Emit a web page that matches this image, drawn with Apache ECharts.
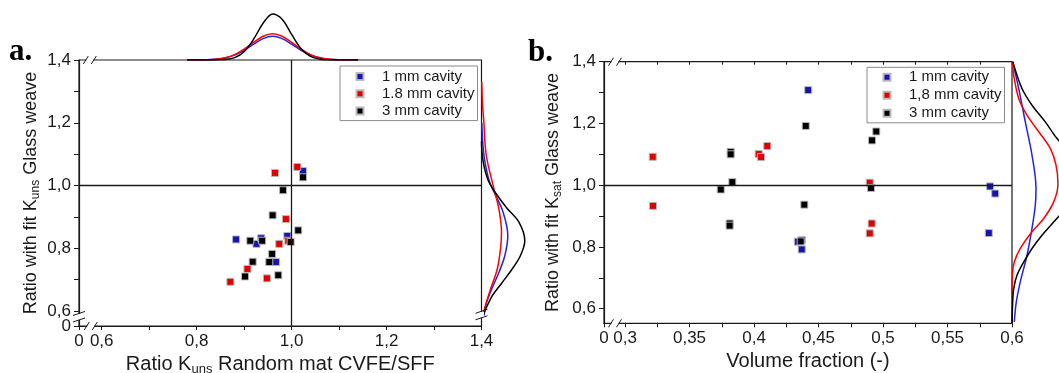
<!DOCTYPE html>
<html><head><meta charset="utf-8">
<script src="https://cdn.jsdelivr.net/npm/echarts@6/dist/echarts.min.js"></script>
<style>html,body{margin:0;padding:0;background:#fff}#c{width:1059px;height:373px}</style>
</head><body><div id="c"></div>
<script>
// ---------- Panel a data ----------
const aLegend = ['1 mm cavity', '1.8 mm cavity', '3 mm cavity'];
const aBlueX  = [0.883, 0.926, 0.936, 0.991, 1.024, 0.967];
const aBlueY  = [0.828, 0.814, 0.832, 0.839, 1.046, 0.756];
const aRedX   = [0.965, 1.012, 0.988, 0.974, 0.993, 0.907, 0.871, 0.948];
const aRedY   = [1.040, 1.059, 0.893, 0.814, 0.824, 0.734, 0.693, 0.704];
const aBlackX = [1.024, 0.982, 0.960, 1.014, 0.913, 0.938, 0.998, 0.959, 0.918, 0.953, 0.902, 0.972];
const aBlackY = [1.026, 0.985, 0.905, 0.857, 0.824, 0.824, 0.820, 0.782, 0.757, 0.756, 0.710, 0.714];

// top marginal distribution (x value, density)
const aTopX     = [0.78, 0.80, 0.82, 0.84, 0.86, 0.88, 0.90, 0.92, 0.94, 0.96, 0.98, 1.00, 1.02, 1.04, 1.06, 1.08, 1.10, 1.12, 1.14];
const aTopBlue  = [0, 0.05, 0.18, 0.68, 2.0, 4.9, 9.7, 15.9, 21.4, 23.7, 21.4, 15.9, 9.7, 4.9, 2.0, 0.68, 0.18, 0.05, 0];
const aTopRed   = [0, 0.05, 0.2, 0.75, 2.2, 5.4, 10.8, 17.7, 23.8, 26.3, 23.8, 17.7, 10.8, 5.4, 2.2, 0.75, 0.2, 0.05, 0];
const aTopBlack = [0, 0, 0, 0.1, 0.5, 2.4, 8.3, 20.8, 36.8, 46.1, 40.8, 25.6, 11.3, 3.6, 0.8, 0.1, 0, 0, 0];

// right marginal distribution (y value, density)
const aRightBlueY  = [1.20, 1.15, 1.109, 1.066, 1.012, 0.969, 0.916, 0.841, 0.776, 0.722, 0.669, 0.626, 0.585];
const aRightBlueD  = [0.3, 1.0, 2.0, 4.0, 8.0, 14.0, 21.5, 26.3, 23.3, 17.3, 10.0, 5.0, 2.5];
const aRightRedY   = [1.33, 1.26, 1.205, 1.098, 0.991, 0.927, 0.851, 0.798, 0.733, 0.669, 0.605, 0.585];
const aRightRedD   = [0.3, 1.0, 2.3, 4.7, 12.3, 17.3, 20.0, 19.0, 15.7, 9.0, 2.8, 1.5];
const aRightBlackY = [1.14, 1.098, 1.055, 1.012, 0.969, 0.927, 0.884, 0.825, 0.777, 0.734, 0.691, 0.648, 0.605, 0.585];
const aRightBlackD = [0, 0.7, 3.0, 7.3, 15.7, 25.7, 37.3, 43.3, 39.0, 30.7, 20.7, 10.7, 4.0, 1.3];

// axis ticks panel a (aMin = broken-axis origin labelled "0")
const aMin = 0.5522;
const aOriginText = '0';
const aLabelVals  = [0.6, 0.8, 1.0, 1.2, 1.4];
const aLabelTexts = ['0,6', '0,8', '1,0', '1,2', '1,4'];
const aTickVals   = [0.5522, 0.6, 0.7, 0.8, 0.9, 1.0, 1.1, 1.2, 1.3, 1.4];

// ---------- Panel b data ----------
const bLegend = ['1 mm cavity', '1,8 mm cavity', '3 mm cavity'];
const bBlueX  = [0.442, 0.434, 0.437, 0.437, 0.583, 0.587, 0.582];
const bBlueY  = [1.308, 0.817, 0.822, 0.792, 0.996, 0.973, 0.845];
const bRedX   = [0.3215, 0.3217, 0.4036, 0.4054, 0.4103, 0.4897, 0.4912, 0.4897];
const bRedY   = [1.092, 0.933, 1.101, 1.091, 1.127, 1.008, 0.876, 0.844];
const bBlackX = [0.3742, 0.3819, 0.3819, 0.3832, 0.3811, 0.3811, 0.4401, 0.4390, 0.4362, 0.4915, 0.4948, 0.4907];
const bBlackY = [0.986, 1.108, 1.100, 1.010, 0.876, 0.869, 1.192, 0.937, 0.818, 1.145, 1.174, 0.991];

const bRightBlueY  = [1.40, 1.313, 1.205, 1.097, 0.989, 0.935, 0.86, 0.773, 0.687, 0.622, 0.557];
const bRightBlueD  = [0.7, 6.7, 13.3, 20.0, 24.0, 23.3, 20.0, 15.0, 8.3, 4.3, 2.3];
const bRightRedY   = [1.40, 1.357, 1.281, 1.227, 1.173, 1.119, 1.065, 1.005, 0.946, 0.892, 0.849, 0.795, 0.751, 0.708, 0.65, 0.553];
const bRightRedD   = [0.5, 1.7, 6.7, 15.0, 26.7, 38.3, 44.0, 46.0, 41.7, 31.7, 20.0, 8.3, 2.3, 0.3, 0, 0];
const bRightBlackY = [1.40, 1.389, 1.313, 1.259, 1.205, 1.151, 1.10, 1.05, 1.00, 0.95, 0.881, 0.838, 0.795, 0.751, 0.708, 0.665, 0.622, 0.553];
const bRightBlackD = [1.2, 1.7, 10.0, 20.0, 33.3, 45.0, 60.0, 68.0, 68.0, 60.0, 41.7, 30.0, 20.0, 11.7, 5.0, 1.7, 0.7, 0];

const bXMin = 0.2837, bYMin = 0.5527;
const bXLabelVals  = [0.2837, 0.3, 0.35, 0.4, 0.45, 0.5, 0.55, 0.6];
const bXLabelTexts = ['0', '0,3', '0,35', '0,4', '0,45', '0,5', '0,55', '0,6'];
const bXTickVals   = [0.2837, 0.3, 0.325, 0.35, 0.375, 0.4, 0.425, 0.45, 0.475, 0.5, 0.525, 0.55, 0.575, 0.6];
const bYLabelVals  = [0.6, 0.8, 1.0, 1.2, 1.4];
const bYLabelTexts = ['0,6', '0,8', '1,0', '1,2', '1,4'];
const bYTickVals   = [0.6, 0.7, 0.8, 0.9, 1.0, 1.1, 1.2, 1.3, 1.4];

// ---------- styling ----------
const FONT = '"Liberation Sans", Arial, sans-serif';
const INK = '#1a1a1a';
const C_BLUE = '#1414b4', C_RED = '#e00000', C_BLACK = '#000000';
const L_BLUE = '#2323e0', L_RED = '#ff0000', L_BLACK = '#000000';

const zip = (a, b) => a.map((v, i) => [v, b[i]]);
const fmt = (vals, texts) => v => { const i = vals.findIndex(u => Math.abs(u - v) < 1e-6); return i < 0 ? '' : texts[i]; };

function mainX(gridIndex, min, max, labelVals, labelTexts, tickVals, name) {
  return {
    gridIndex, type: 'value', min, max, position: 'bottom',
    axisLine: { show: true, onZero: false, lineStyle: { color: INK, width: 1.2 } },
    axisTick: { show: true, customValues: tickVals, length: 4, lineStyle: { color: INK, width: 1 } },
    axisLabel: { customValues: labelVals, formatter: fmt(labelVals, labelTexts), margin: 7, fontSize: 17,
      color: INK, fontFamily: FONT, showMinLabel: true, showMaxLabel: true, hideOverlap: false },
    splitLine: { show: false },
    name, nameLocation: 'middle', nameGap: 26, nameMoveOverlap: false,
    nameTextStyle: { fontFamily: FONT, color: INK, fontSize: 20,
      rich: { t: { fontSize: 20, fontFamily: FONT, color: INK, lineHeight: 24 },
              s: { fontSize: 13, fontFamily: FONT, color: INK, lineHeight: 13, verticalAlign: 'bottom' } } }
  };
}
function mainY(gridIndex, min, max, labelVals, labelTexts, tickVals, name, gap) {
  return {
    gridIndex, type: 'value', min, max, position: 'left',
    axisLine: { show: true, onZero: false, lineStyle: { color: INK, width: 1.2 } },
    axisTick: { show: true, customValues: tickVals, length: 5, lineStyle: { color: INK, width: 1 } },
    axisLabel: { customValues: labelVals, formatter: fmt(labelVals, labelTexts), margin: 8, fontSize: 17,
      color: INK, fontFamily: FONT, showMinLabel: true, showMaxLabel: true, hideOverlap: false },
    splitLine: { show: false },
    name, nameLocation: 'middle', nameGap: gap, nameMoveOverlap: false,
    nameTextStyle: { fontFamily: FONT, color: INK, fontSize: 18,
      rich: { t: { fontSize: 18, fontFamily: FONT, color: INK, lineHeight: 22 },
              s: { fontSize: 12, fontFamily: FONT, color: INK, lineHeight: 12, verticalAlign: 'bottom' } } }
  };
}
const hidden = (gridIndex, min, max) => ({ gridIndex, type: 'value', min, max, show: false, splitLine: { show: false } });

function scatter(name, xs, ys, color, xi, yi) {
  return { type: 'scatter', name, xAxisIndex: xi, yAxisIndex: yi, data: zip(xs, ys), symbol: 'rect', symbolSize: 7,
    itemStyle: { color, borderColor: 'rgba(185,185,185,0.95)', borderWidth: 1, opacity: 1 }, z: 3 };
}
function curve(name, data, color, xi, yi) {
  return { type: 'line', name, xAxisIndex: xi, yAxisIndex: yi, data, showSymbol: false, symbol: 'none',
    smooth: 0.35, lineStyle: { color, width: 1.5 }, itemStyle: { color }, silent: true, z: 4, clip: true };
}
function legend(left, top, data, pad, gap) {
  return { orient: 'vertical', left, top, data, icon: 'rect', itemWidth: 7, itemHeight: 7, itemGap: gap,
    padding: pad, borderColor: '#8a8a8a', borderWidth: 1, backgroundColor: '#fff', selectedMode: false,
    textStyle: { fontFamily: FONT, fontSize: 15, color: INK, lineHeight: 17, padding: [0, 0, 0, 13.5] } };
}

const option = {
  animation: false,
  backgroundColor: '#fff',
  grid: [
    { left: 79, top: 60, width: 402.5, height: 266, show: true, borderColor: INK, borderWidth: 1.2, backgroundColor: 'transparent', outerBoundsMode: 'none' },
    { left: 79, top: 10, width: 402.5, height: 50, show: false, outerBoundsMode: 'none' },
    { left: 481.5, top: 60, width: 60, height: 266, show: false, outerBoundsMode: 'none' },
    { left: 604, top: 61.7, width: 408, height: 261.6, show: true, borderColor: INK, borderWidth: 1.2, backgroundColor: 'transparent', outerBoundsMode: 'none' },
    { left: 1012, top: 61.7, width: 80, height: 261.6, show: false, outerBoundsMode: 'none' }
  ],
  xAxis: [
    mainX(0, aMin, 1.4, [aMin].concat(aLabelVals), [aOriginText].concat(aLabelTexts), aTickVals, '{t|Ratio K}{s|uns}{t| Random mat CVFE/SFF}'),
    hidden(1, aMin, 1.4),
    hidden(2, 0, 60),
    mainX(3, bXMin, 0.6, bXLabelVals, bXLabelTexts, bXTickVals, '{t|Volume fraction (-)}'),
    { gridIndex: 3, type: 'value', min: bXMin, max: 0.6, position: 'top',
      axisLine: { show: false }, axisLabel: { show: false }, splitLine: { show: false },
      axisTick: { show: true, inside: true, customValues: bXTickVals.slice(1), length: 3, lineStyle: { color: INK } } },
    hidden(4, 0, 80)
  ],
  yAxis: [
    mainY(0, aMin, 1.4, aLabelVals, aLabelTexts, aTickVals, '{t|Ratio with fit K}{s|uns}{t| Glass weave}', 37),
    hidden(1, 0, 50),
    hidden(2, aMin, 1.4),
    mainY(3, bYMin, 1.4, bYLabelVals, bYLabelTexts, bYTickVals, '{t|Ratio with fit K}{s|sat}{t| Glass weave}', 40),
    hidden(4, bYMin, 1.4),
    // separate axis carrying only the broken-axis origin label "0" of panel a
    { gridIndex: 0, type: 'value', min: aMin, max: 1.4, position: 'left',
      axisLine: { show: false, onZero: false }, axisTick: { show: false }, splitLine: { show: false },
      axisLabel: { customValues: [aMin], formatter: () => aOriginText, margin: 8, fontSize: 17, color: INK, fontFamily: FONT,
        showMinLabel: true, showMaxLabel: true } }
  ],
  legend: [
    legend(340, 66, aLegend, [2, 3, 1, 15.5], 0.3),
    legend(867, 67.3, bLegend, [1.5, 3, 1, 15.5], 1)
  ],
  series: [
    { type: 'line', name: 'refA', xAxisIndex: 0, yAxisIndex: 0, data: [], silent: true, z: 2,
      markLine: { silent: true, symbol: ['none', 'none'], label: { show: false },
        lineStyle: { color: INK, width: 1.3, type: 'solid' }, data: [{ xAxis: 1.0 }, { yAxis: 1.0 }] } },
    scatter(aLegend[0], aBlueX, aBlueY, C_BLUE, 0, 0),
    scatter(aLegend[1], aRedX, aRedY, C_RED, 0, 0),
    scatter(aLegend[2], aBlackX, aBlackY, C_BLACK, 0, 0),
    curve('aTopBlue', zip(aTopX, aTopBlue), L_BLUE, 1, 1),
    curve('aTopRed', zip(aTopX, aTopRed), L_RED, 1, 1),
    curve('aTopBlack', zip(aTopX, aTopBlack), L_BLACK, 1, 1),
    curve('aRightBlue', zip(aRightBlueD, aRightBlueY), L_BLUE, 2, 2),
    curve('aRightRed', zip(aRightRedD, aRightRedY), L_RED, 2, 2),
    curve('aRightBlack', zip(aRightBlackD, aRightBlackY), L_BLACK, 2, 2),

    { type: 'line', name: 'refB', xAxisIndex: 3, yAxisIndex: 3, data: [], silent: true, z: 2,
      markLine: { silent: true, symbol: ['none', 'none'], label: { show: false },
        lineStyle: { color: INK, width: 1.3, type: 'solid' }, data: [{ yAxis: 1.0 }] } },
    scatter(bLegend[0], bBlueX, bBlueY, C_BLUE, 3, 3),
    scatter(bLegend[1], bRedX, bRedY, C_RED, 3, 3),
    scatter(bLegend[2], bBlackX, bBlackY, C_BLACK, 3, 3),
    curve('bRightBlue', zip(bRightBlueD, bRightBlueY), L_BLUE, 5, 4),
    curve('bRightRed', zip(bRightRedD, bRightRedY), L_RED, 5, 4),
    curve('bRightBlack', zip(bRightBlackD, bRightBlackY), L_BLACK, 5, 4)
  ]
};

const chart = echarts.init(document.getElementById('c'), null, { renderer: 'canvas', devicePixelRatio: 1 });
chart.setOption(option);

// axis-break marks placed through the axes
function hBreak(p) {
  const [cx, cy] = p;
  return { type: 'group', z: 100, children: [
    { type: 'rect', shape: { x: cx - 3.5, y: cy - 2.5, width: 7, height: 5 }, style: { fill: '#fff' }, z: 100 },
    { type: 'line', shape: { x1: cx - 6.5, y1: cy + 4, x2: cx - 1.5, y2: cy - 4 }, style: { stroke: INK, lineWidth: 1 }, z: 101 },
    { type: 'line', shape: { x1: cx + 1.5, y1: cy + 4, x2: cx + 6.5, y2: cy - 4 }, style: { stroke: INK, lineWidth: 1 }, z: 101 }
  ] };
}
function vBreak(p) {
  const [cx, cy] = p;
  return { type: 'group', z: 100, children: [
    { type: 'rect', shape: { x: cx - 2.5, y: cy - 3, width: 5, height: 6 }, style: { fill: '#fff' }, z: 100 },
    { type: 'line', shape: { x1: cx - 6, y1: cy - 1.5, x2: cx + 6, y2: cy - 5.5 }, style: { stroke: INK, lineWidth: 1 }, z: 101 },
    { type: 'line', shape: { x1: cx - 6, y1: cy + 5, x2: cx + 6, y2: cy + 1 }, style: { stroke: INK, lineWidth: 1 }, z: 101 }
  ] };
}
const pa = v => chart.convertToPixel({ gridIndex: 0 }, v);
const pb = v => chart.convertToPixel({ gridIndex: 3 }, v);
chart.setOption({
  graphic: [
    hBreak(pa([0.575, 1.4])),
    hBreak(pa([0.577, aMin])),
    vBreak(pa([aMin, 0.581])),
    vBreak(pa([1.4, 0.588])),
    hBreak(pb([0.2922, 1.4])),
    hBreak(pb([0.2922, bYMin])),
    { type: 'text', z: 100, style: { x: 9, y: 67, text: 'a.', font: 'bold 31px "Liberation Serif", "Times New Roman", serif', fill: '#000', verticalAlign: 'bottom' } },
    { type: 'text', z: 100, style: { x: 528, y: 68.5, text: 'b.', font: 'bold 31px "Liberation Serif", "Times New Roman", serif', fill: '#000', verticalAlign: 'bottom' } }
  ]
});
</script>
</body></html>
